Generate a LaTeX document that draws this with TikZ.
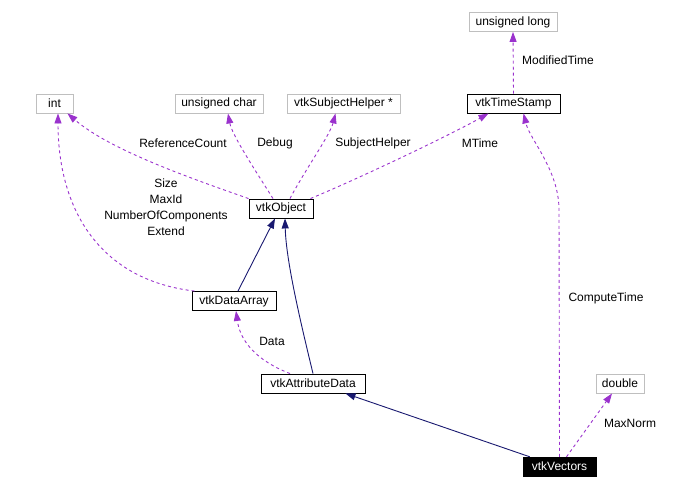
\documentclass[tikz,border=0pt]{standalone}
\usepackage{fontspec}
\setmainfont{Liberation Sans}
\usetikzlibrary{arrows.meta}
\definecolor{usepurple}{HTML}{9A32CD}
\definecolor{inhnavy}{HTML}{191970}
\definecolor{extgray}{HTML}{BFBFBF}
\begin{document}
\begin{tikzpicture}[x=1pt, y=-1pt, >={Triangle[length=10pt,width=7pt]},
  font=\fontsize{12}{16}\selectfont,
  cls/.style={draw=black, line width=0.9pt, minimum height=19pt, inner sep=0pt},
  ext/.style={draw=extgray, line width=0.9pt, minimum height=19pt, inner sep=0pt},
  inh/.style={->, inhnavy, line width=0.9pt},
  use/.style={->, usepurple, line width=0.9pt, dash pattern=on 3pt off 3pt}]
\useasboundingbox (0,0) rectangle (692,488);
\node[ext, minimum width=37pt] (int) at (54.5,103.5) {int};
\node[ext, minimum width=88pt] (uchar) at (219,103.5) {unsigned char};
\node[ext, minimum width=113pt] (subj) at (343.5,103.5) {vtkSubjectHelper *};
\node[ext, minimum width=88pt] (ulong) at (513,22) {unsigned long};
\node[cls, minimum width=93pt] (ts) at (513.5,103.5) {vtkTimeStamp};
\node[cls, minimum width=64pt] (obj) at (281,208.5) {vtkObject};
\node[cls, minimum width=84pt] (darr) at (234,301) {vtkDataArray};
\node[cls, minimum width=104pt] (attr) at (313,383.5) {vtkAttributeData};
\node[ext, minimum width=48pt] (dbl) at (620,383.5) {double};
\node[draw=black, fill=black, text=white, minimum width=73pt, minimum height=19pt, inner sep=0pt] (vec) at (559.5,466.5) {vtkVectors};
% members of vtkObject
\draw[use] (obj.north west) .. controls (190,178) and (110,150) .. ([xshift=-6pt]int.south east);
\draw[use] ([xshift=-8pt]obj.north) .. controls (255,170) and (232,135) .. ([xshift=9pt]uchar.south);
\draw[use] ([xshift=9pt]obj.north) .. controls (305,170) and (330,135) .. ([xshift=-8pt]subj.south);
\draw[use] ([xshift=-3pt]obj.north east) .. controls (360,178) and (450,135) .. ([xshift=-25pt]ts.south);
\draw[use] (ts.north) -- (ulong.south);
\node (lref) at (183,143) {ReferenceCount};
\node (ldbg) at (275,143) {Debug};
\node (lsub) at (373,143) {SubjectHelper};
\node (lmt) at (480,143) {MTime};
\node (lmod) at (558,60) {ModifiedTime};
% vtkDataArray
\draw[use] ([xshift=3pt]darr.north west) .. controls (100,280) and (58,210) .. ([xshift=3.5pt]int.south);
\node[align=center] (lsize) at (166,207) {Size\\MaxId\\NumberOfComponents\\Extend};
\draw[inh] ([xshift=4pt]darr.north) -- ([xshift=-6pt]obj.south);
% vtkAttributeData
\draw[inh] (attr.north) .. controls (300,320) and (286,260) .. ([xshift=4pt]obj.south);
\draw[use] ([xshift=-23pt]attr.north) .. controls (255,360) and (240,340) .. ([xshift=2pt]darr.south);
\node (ldata) at (272,341) {Data};
% vtkVectors
\draw[inh] ([xshift=7pt]vec.north west) -- ([xshift=-20pt]attr.south east);
\draw[use] (vec.north) -- (559,210) .. controls (559,170) and (530,140) .. ([xshift=10pt]ts.south);
\draw[use] ([xshift=7pt]vec.north) -- ([xshift=-8pt]dbl.south);
\node (lct) at (606,298) {ComputeTime};
\node (lmax) at (630,423) {MaxNorm};
\end{tikzpicture}
\end{document}
